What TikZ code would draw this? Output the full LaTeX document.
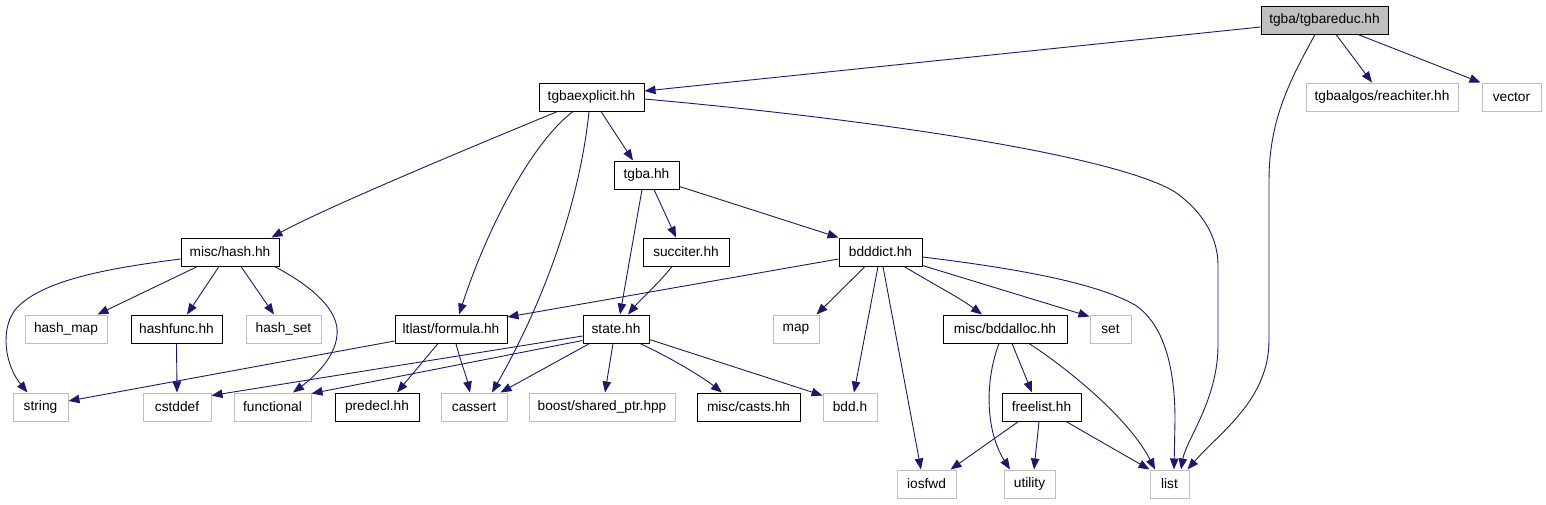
\documentclass[tikz,border=0pt]{standalone}
\usepackage{fontspec}
\setmainfont{Liberation Sans}
\usetikzlibrary{arrows.meta}
\definecolor{edgec}{HTML}{191970}
\definecolor{extc}{HTML}{BFBFBF}
\begin{document}
\begin{tikzpicture}[x=1pt,y=-1pt,
  doc/.style={draw=black, line width=1pt, rectangle, inner sep=0pt, minimum height=28pt, font=\fontsize{13.7}{16}\selectfont},
  ext/.style={doc, draw=extc},
  root/.style={doc, fill=extc},
  edge/.style={draw=edgec, line width=0.9pt, -{Triangle[length=11pt,width=8.5pt]}}]
\useasboundingbox (0,0) rectangle (1546,504);
% row 1
\node[root, minimum width=127] (tgbareduc) at (1324.5,20) {tgba/tgbareduc.hh};
% row 2
\node[ext, minimum width=152] (reachiter) at (1382,97) {tgbaalgos/reachiter.hh};
\node[ext, minimum width=59] (vector) at (1511.5,97) {vector};
\node[doc, minimum width=105] (tgbaexplicit) at (591.5,97) {tgbaexplicit.hh};
% row 3
\node[doc, minimum width=65] (tgba) at (646.5,175) {tgba.hh};
% row 4
\node[doc, minimum width=98] (hash) at (230,252) {misc/hash.hh};
\node[doc, minimum width=86] (succiter) at (686,252) {succiter.hh};
\node[doc, minimum width=83] (bdddict) at (880.5,252) {bdddict.hh};
% row 5
\node[ext, minimum width=82] (hashmap) at (66,329) {hash\_map};
\node[doc, minimum width=91] (hashfunc) at (176.5,329) {hashfunc.hh};
\node[ext, minimum width=75] (hashset) at (283.5,329) {hash\_set};
\node[doc, minimum width=112] (formula) at (451,329) {ltlast/formula.hh};
\node[doc, minimum width=66] (state) at (616,329) {state.hh};
\node[ext, minimum width=46] (map) at (796,329) {map};
\node[doc, minimum width=124] (bddalloc) at (1005,329) {misc/bddalloc.hh};
\node[ext, minimum width=41] (set) at (1110.5,329) {set};
% row 6
\node[ext, minimum width=55] (string) at (40.5,407) {string};
\node[ext, minimum width=68] (cstddef) at (177,407) {cstddef};
\node[ext, minimum width=77] (functional) at (272.5,407) {functional};
\node[doc, minimum width=84] (predecl) at (377,407) {predecl.hh};
\node[ext, minimum width=66] (cassert) at (474,407) {cassert};
\node[ext, minimum width=146] (boost) at (602,407) {boost/shared\_ptr.hpp};
\node[doc, minimum width=103] (casts) at (748.5,407) {misc/casts.hh};
\node[ext, minimum width=54] (bddh) at (850,407) {bdd.h};
\node[doc, minimum width=79] (freelist) at (1041.5,407) {freelist.hh};
% row 7
\node[ext, minimum width=59] (iosfwd) at (926.5,484) {iosfwd};
\node[ext, minimum width=51] (utility) at (1029.5,484) {utility};
\node[ext, minimum width=39] (list) at (1169.5,484) {list};

% edges from tgbareduc
\draw[edge] ([yshift=-7pt]tgbareduc.west) -- ([yshift=6pt]tgbaexplicit.east);
\draw[edge] ([xshift=11.5pt]tgbareduc.south) -- ([xshift=-10pt]reachiter.north);
\draw[edge] ([xshift=33.5pt]tgbareduc.south) -- ([xshift=-1pt]vector.north west);
\draw[edge] ([xshift=-9.5pt]tgbareduc.south) .. controls (1290,80) and (1269,120) .. (1269,180)
   -- (1269,340) .. controls (1269,400) and (1220,432) .. ([xshift=-2pt]list.north east);
% edges from tgbaexplicit
\draw[edge] ([yshift=-2pt]tgbaexplicit.east) .. controls (900,122) and (1120,158) .. (1175,192)
   .. controls (1205,213) and (1218,240) .. (1218,265) -- (1218,345)
   .. controls (1218,400) and (1186,440) .. ([xshift=11.5pt]list.north);
\draw[edge] ([xshift=9.5pt]tgbaexplicit.south) -- ([xshift=-13.5pt]tgba.north);
\draw[edge] ([xshift=19pt]tgbaexplicit.south west) .. controls (520,127) and (330,205) .. ([xshift=-8pt]hash.north east);
\draw[edge] ([xshift=-18.5pt]tgbaexplicit.south) .. controls (535,140) and (490,220) .. ([xshift=8pt]formula.north);
\draw[edge] ([xshift=-2.5pt]tgbaexplicit.south) .. controls (580,200) and (545,300) .. ([xshift=18pt]cassert.north);
% edges from tgba
\draw[edge] ([xshift=-4.5pt]tgba.south) -- ([xshift=4pt]state.north);
\draw[edge] ([xshift=7.5pt]tgba.south) -- ([xshift=-10pt]succiter.north);
\draw[edge] ([yshift=3pt]tgba.south east) -- (bdddict.north west);
% succiter
\draw[edge] ([xshift=-14pt]succiter.south) .. controls (660,282) and (640,300) .. ([xshift=12pt]state.north);
% bdddict
\draw[edge] ([yshift=-7pt]bdddict.west) -- ([yshift=12pt]formula.east);
\draw[edge] ([xshift=-15.5pt]bdddict.south) -- ([xshift=-3pt]map.north east);
\draw[edge] ([xshift=-2.5pt]bdddict.south) -- ([xshift=4pt]bddh.north);
\draw[edge] ([xshift=2.5pt]bdddict.south) -- ([xshift=-5.5pt]iosfwd.north);
\draw[edge] ([xshift=23.5pt]bdddict.south) .. controls (935,285) and (960,298) .. ([xshift=-23pt]bddalloc.north);
\draw[edge] ([yshift=1pt]bdddict.south east) -- ([yshift=-2pt]set.north west);
\draw[edge] ([yshift=-5pt]bdddict.east) .. controls (1030,270) and (1100,285) .. (1135,305)
   .. controls (1165,325) and (1175,370) .. (1175,420) -- ([xshift=4.5pt]list.north);
% bddalloc
\draw[edge] ([xshift=7pt]bddalloc.south) -- ([xshift=-9.5pt]freelist.north);
\draw[edge] ([xshift=-6pt]bddalloc.south) .. controls (985,380) and (985,430) .. ([xshift=-19.5pt]utility.north);
\draw[edge] ([xshift=24pt]bddalloc.south) .. controls (1070,370) and (1130,420) .. ([xshift=-14.5pt]list.north);
% freelist
\draw[edge] ([xshift=17pt]freelist.south west) -- ([xshift=-6pt]iosfwd.north east);
\draw[edge] ([xshift=-2.5pt]freelist.south) -- ([xshift=4.5pt]utility.north);
\draw[edge] ([xshift=-15.5pt]freelist.south east) -- (list.north west);
% misc/hash.hh
\draw[edge] ([yshift=-7pt]hash.west) .. controls (110,268) and (40,280) .. (15,310)
   .. controls (0,330) and (5,365) .. ([xshift=15pt]string.north west);
\draw[edge] ([xshift=17pt]hash.south west) -- ([xshift=-10pt]hashmap.north east);
\draw[edge] ([xshift=-11pt]hash.south) -- ([xshift=10.5pt]hashfunc.north);
\draw[edge] ([xshift=11pt]hash.south) -- ([xshift=-9.5pt]hashset.north);
\draw[edge] ([xshift=-5pt]hash.south east) .. controls (310,285) and (340,310) .. (337,335)
   .. controls (335,360) and (310,380) .. ([xshift=20.5pt]functional.north);
% hashfunc
\draw[edge] (hashfunc.south) -- (cstddef.north);
% formula
\draw[edge] ([yshift=-12pt]formula.west) -- ([yshift=6pt]string.east);
\draw[edge] ([xshift=-13pt]formula.south) -- ([xshift=20pt]predecl.north);
\draw[edge] ([xshift=5pt]formula.south) .. controls (460,360) and (466,375) .. ([xshift=-4pt]cassert.north);
% state
\draw[edge] ([yshift=-7pt]state.west) -- ([yshift=-3pt]cstddef.north east);
\draw[edge] ([yshift=3pt]state.south west) -- ([yshift=-1pt]functional.north east);
\draw[edge] ([xshift=7pt]state.south west) -- ([xshift=-7pt]cassert.north east);
\draw[edge] ([xshift=-3pt]state.south) -- ([xshift=3pt]boost.north);
\draw[edge] ([xshift=24pt]state.south) .. controls (665,355) and (700,375) .. ([xshift=-26.5pt]casts.north);
\draw[edge] ([yshift=4pt]state.south east) -- ([yshift=-3pt]bddh.north west);
\end{tikzpicture}
\end{document}
